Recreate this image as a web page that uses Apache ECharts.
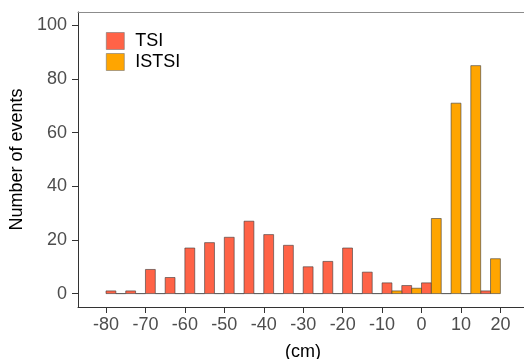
<!DOCTYPE html>
<html>
<head>
<meta charset="utf-8">
<script src="https://cdn.jsdelivr.net/npm/echarts@6/dist/echarts.min.js"></script>
<style>
  html, body { margin: 0; padding: 0; background: #fff; }
  #chart { width: 524px; height: 359px; }
</style>
</head>
<body>
<div id="chart"></div>
<script>
// bin left edges (cm), each bin 5 cm wide; TSI takes the left half, ISTSI the right half
const binStarts = [-80, -75, -70, -65, -60, -55, -50, -45, -40, -35, -30, -25, -20, -15, -10, -5, 0, 5, 10, 15]
const tsiCounts = [1, 1, 9, 6, 17, 19, 21, 27, 22, 18, 10, 12, 17, 8, 4, 3, 4, 0, 0, 1]
const istsiCounts = [0, 0, 0, 0, 0, 0, 0, 0, 0, 0, 0, 0, 0, 0, 1, 2, 28, 71, 85, 13]
const xTicks = [-80, -70, -60, -50, -40, -30, -20, -10, 0, 10, 20]
const yTicks = [0, 20, 40, 60, 80, 100]

const binWidth = 5
const FONT = 'Liberation Sans, Arial, sans-serif'

const tsiData = binStarts.map((s, i) => [s, s + binWidth / 2, tsiCounts[i]])
const istsiData = binStarts.map((s, i) => [s + binWidth / 2, s + binWidth, istsiCounts[i]])

const renderBar = color => (params, api) => {
  const top = api.coord([api.value(0), api.value(2)])
  const base = api.coord([api.value(1), 0])
  return {
    type: 'rect',
    shape: { x: top[0], y: top[1], width: base[0] - top[0], height: base[1] - top[1] },
    style: { fill: color, stroke: '#3a3a3a', lineWidth: 0.6 }
  }
}

const chart = echarts.init(document.getElementById('chart'))

chart.setOption({
  animation: false,
  backgroundColor: '#fff',
  textStyle: { fontFamily: FONT },
  grid: {
    left: 78, top: 12, right: -4, bottom: 52,
    outerBoundsMode: 'none',
    containLabel: false,
    show: false
  },
  legend: {
    orient: 'vertical',
    left: 106, top: 32, padding: 0,
    itemWidth: 18, itemHeight: 17, itemGap: 3,
    textStyle: { fontSize: 18, color: '#000', fontFamily: FONT, padding: [0, 0, 0, 6] },
    data: [
      { name: 'TSI', icon: 'rect', itemStyle: { color: '#FF6347', borderColor: '#777', borderWidth: 0.6 } },
      { name: 'ISTSI', icon: 'rect', itemStyle: { color: '#FFA500', borderColor: '#777', borderWidth: 0.6 } }
    ]
  },
  xAxis: [
    {
      type: 'value',
      min: -87.1, max: 27,
      name: '(cm)', nameLocation: 'middle', nameGap: 36,
      nameTextStyle: { fontSize: 18, color: '#000', fontFamily: FONT },
      axisLine: { show: true, onZero: false, lineStyle: { color: '#333', width: 1 } },
      axisTick: { show: true, length: 6, customValues: xTicks, lineStyle: { color: '#333' } },
      axisLabel: { customValues: xTicks, fontSize: 18, color: '#4d4d4d', margin: 9, fontFamily: FONT },
      splitLine: { show: false }
    },
    {
      // top edge of the panel
      type: 'value', position: 'top',
      min: -87.1, max: 27,
      axisLine: { show: true, onZero: false, lineStyle: { color: '#8c8c8c', width: 1 } },
      axisTick: { show: false },
      axisLabel: { show: false },
      splitLine: { show: false }
    }
  ],
  yAxis: {
    type: 'value',
    min: -5, max: 105,
    name: 'Number of events', nameLocation: 'middle', nameGap: 50, nameRotate: 90,
    nameTextStyle: { fontSize: 18, color: '#000', fontFamily: FONT },
    axisLine: { show: true, onZero: false, lineStyle: { color: '#333', width: 1 } },
    axisTick: { show: true, length: 6, customValues: yTicks, lineStyle: { color: '#333' } },
    axisLabel: { customValues: yTicks, fontSize: 18, color: '#4d4d4d', margin: 11, fontFamily: FONT },
    splitLine: { show: false }
  },
  series: [
    {
      name: 'TSI', type: 'custom',
      itemStyle: { color: '#FF6347' },
      encode: { x: [0, 1], y: 2 },
      renderItem: renderBar('#FF6347'),
      data: tsiData
    },
    {
      name: 'ISTSI', type: 'custom',
      itemStyle: { color: '#FFA500' },
      encode: { x: [0, 1], y: 2 },
      renderItem: renderBar('#FFA500'),
      data: istsiData
    }
  ]
})
</script>
</body>
</html>
